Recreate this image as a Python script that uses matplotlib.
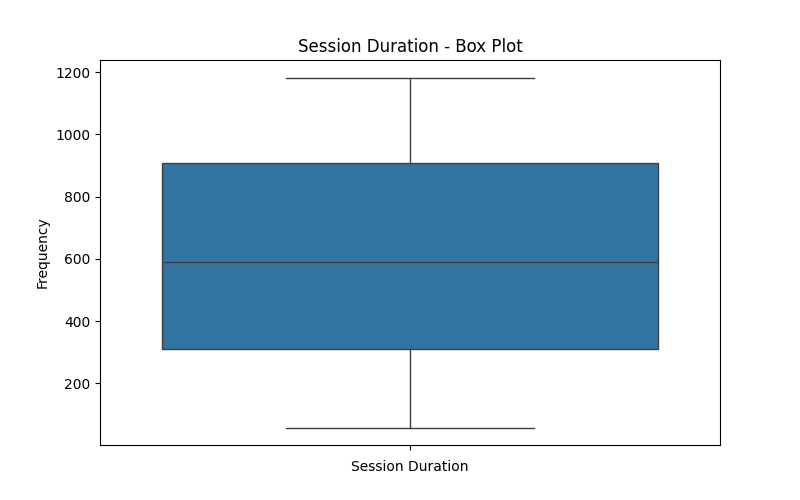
import matplotlib
matplotlib.use("Agg")
import matplotlib.pyplot as plt

categories = ["Session Duration"]
whisker_low = [58]
q1 = [309]
median = [589]
q3 = [907]
whisker_high = [1183]

fig, ax = plt.subplots(figsize=(8, 5), dpi=100)

stats = []
for i, c in enumerate(categories):
    stats.append(dict(label=c, whislo=whisker_low[i], q1=q1[i], med=median[i],
                      q3=q3[i], whishi=whisker_high[i], fliers=[]))

line_color = "#3f3f3f"
ax.bxp(stats, positions=range(len(categories)), widths=0.8, patch_artist=True,
       showfliers=False,
       boxprops=dict(facecolor="#3274a1", edgecolor=line_color, linewidth=1.0),
       medianprops=dict(color=line_color, linewidth=1.0),
       whiskerprops=dict(color=line_color, linewidth=1.0),
       capprops=dict(color=line_color, linewidth=1.0),
       capwidths=0.4)

ax.set_xlim(-0.5, 0.5)
ax.set_title("Session Duration - Box Plot")
ax.set_ylabel("Frequency")
ax.set_xticks(range(len(categories)))
ax.set_xticklabels([""])
ax.set_xlabel(categories[0])

fig.savefig("out.png", dpi=100)
